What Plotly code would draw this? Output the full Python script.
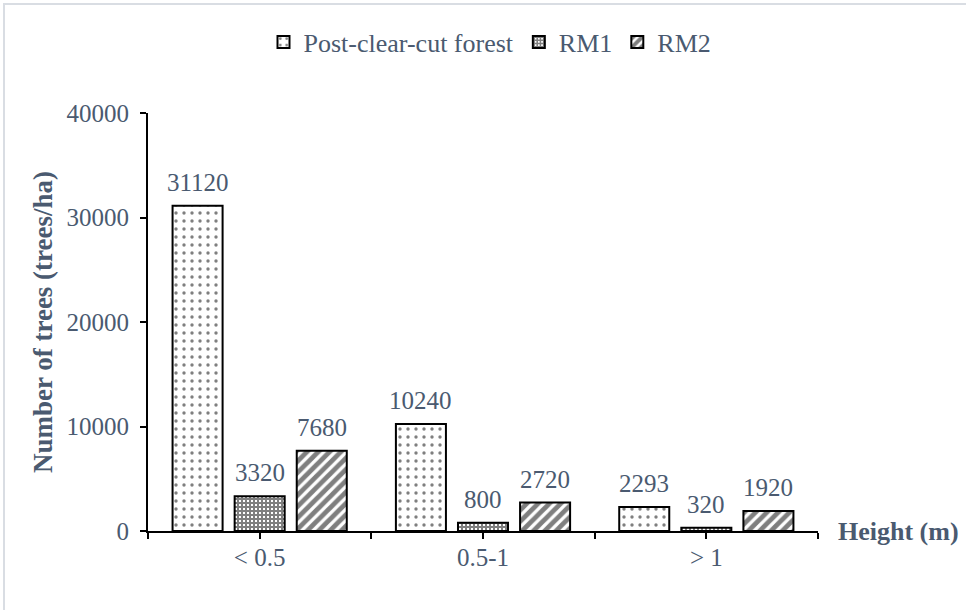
import plotly.graph_objects as go

# Data
categories = ["< 0.5", "0.5-1", "> 1"]
series_names = ["Post-clear-cut forest", "RM1", "RM2"]
post_clear_cut = [31120, 10240, 2293]
rm1 = [3320, 800, 320]
rm2 = [7680, 2720, 1920]
y_ticks = [0, 10000, 20000, 30000, 40000]

TEXT = "#4a5a70"
FONT = "Liberation Serif, Times New Roman, serif"

# Plot area in pixels
W, H = 966, 610
L, R, T, B = 148, 148, 113, 79
PW, PH = W - L - R, H - T - B

# Bar geometry (in category units)
bar_width = 0.224
offsets = [-0.39, -0.112, 0.166]
patterns = [
    dict(shape=".", size=8, solidity=0.14, fgcolor="black", bgcolor="white"),
    dict(shape="+", size=4, solidity=0.75, fgcolor="black", bgcolor="white"),
    dict(shape="/", size=8, solidity=0.6, fgcolor="black", bgcolor="white"),
]
values = [post_clear_cut, rm1, rm2]
xs = list(range(len(categories)))

fig = go.Figure()
annotations = []
for name, vals, off, pat in zip(series_names, values, offsets, patterns):
    fig.add_trace(go.Bar(
        x=xs, y=vals, name=name,
        width=bar_width, offset=off,
        marker=dict(color="white", pattern=pat,
                    line=dict(color="black", width=2)),
    ))
    for xi, v in zip(xs, vals):
        annotations.append(dict(
            x=xi + off + bar_width / 2, y=v, xref="x", yref="y",
            text=str(v), showarrow=False, yanchor="bottom", yshift=8,
            font=dict(family=FONT, size=25, color=TEXT),
        ))

# x-axis title placed at the right end of the axis
annotations.append(dict(
    x=1, y=0, xref="paper", yref="paper", xanchor="left", yanchor="middle",
    xshift=18, text="<b>Height (m)</b>", showarrow=False,
    font=dict(family=FONT, size=26, color=TEXT),
))

# tick marks at category centres and boundaries, labels at centres
tickvals = [i * 0.5 - 0.5 for i in range(2 * len(categories) + 1)]
ticktext = [categories[int(v)] if float(v).is_integer() else "" for v in tickvals]

fig.update_layout(
    width=W, height=H,
    margin=dict(l=L, r=R, t=T, b=B, autoexpand=False),
    paper_bgcolor="white", plot_bgcolor="white",
    font=dict(family=FONT, size=25, color=TEXT),
    showlegend=True,
    legend=dict(orientation="h", x=0.5 + 7 / W, xanchor="center", xref="container",
                y=1 - 42 / H, yanchor="middle", yref="container",
                bgcolor="rgba(0,0,0,0)",
                font=dict(family=FONT, size=26, color=TEXT),
                itemwidth=30, traceorder="normal"),
    xaxis=dict(range=[-0.5, 2.5], tickvals=tickvals, ticktext=ticktext,
               showline=True, linecolor="black", linewidth=2,
               ticks="outside", ticklen=6, tickwidth=2, tickcolor="black",
               showgrid=False, zeroline=False, ticklabelstandoff=-3,
               tickfont=dict(family=FONT, size=25, color=TEXT)),
    yaxis=dict(range=[0, 40000], tickvals=y_ticks, tickformat="d",
               showline=True, linecolor="black", linewidth=2,
               ticks="outside", ticklen=6, tickwidth=2, tickcolor="black",
               showgrid=False, zeroline=False, ticklabelstandoff=6,
               tickfont=dict(family=FONT, size=25, color=TEXT),
               title=dict(text="<b>Number of trees (trees/ha)</b>", standoff=6,
                          font=dict(family=FONT, size=27, color=TEXT))),
    annotations=annotations,
    shapes=[dict(type="rect", xref="paper", yref="paper",
                 x0=(4 - L) / PW, x1=(W + 20 - L) / PW,
                 y0=-(B + 20) / PH, y1=(H - 4 - B) / PH,
                 line=dict(color="#d9dde3", width=2), layer="below")],
)

fig.write_html("out.html")
